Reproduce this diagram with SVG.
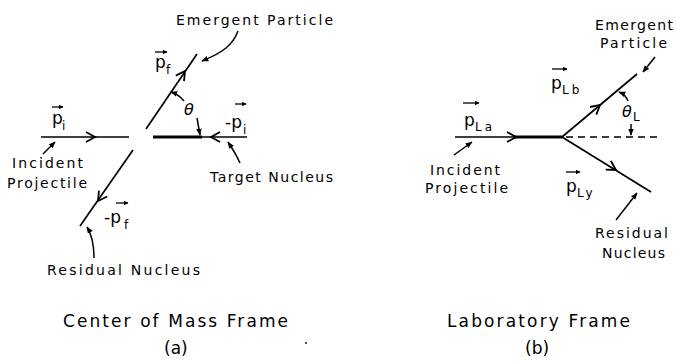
<svg xmlns="http://www.w3.org/2000/svg" width="676" height="364" viewBox="0 0 676 364">
<defs>
<marker id="tri" viewBox="0 0 10 10" refX="9" refY="5" markerWidth="7" markerHeight="7" markerUnits="userSpaceOnUse" orient="auto"><path d="M0,1 L10,5 L0,9 z" fill="#000"/></marker>
<marker id="vec" viewBox="0 0 10 10" refX="9" refY="5" markerWidth="5" markerHeight="5" markerUnits="userSpaceOnUse" orient="auto"><path d="M0,0 L10,5 L0,10 z" fill="#000"/></marker>
</defs>
<style>
.t{font-family:"DejaVu Sans","Liberation Sans",sans-serif;font-size:14px;fill:#000}
.h{font-family:"DejaVu Sans","Liberation Sans",sans-serif;font-size:17px;fill:#000}
.p{font-family:"DejaVu Sans","Liberation Sans",sans-serif;font-size:17px;fill:#000}
.s{font-family:"DejaVu Sans","Liberation Sans",sans-serif;font-size:12px;fill:#000}
.g{font-family:"DejaVu Sans","Liberation Sans",sans-serif;font-size:16px;font-style:italic;fill:#000}
.ln{fill:none;stroke:#000;stroke-width:1.7}
.ch{fill:none;stroke:#000;stroke-width:1.8;stroke-linejoin:miter}
.thk{fill:none;stroke:#000;stroke-width:3}
.ptr{fill:none;stroke:#000;stroke-width:1.5;marker-end:url(#tri)}
.v{fill:none;stroke:#000;stroke-width:1.3;marker-end:url(#vec)}
.dash{fill:none;stroke:#000;stroke-width:1.7;stroke-dasharray:7 5}
</style>
<g id="connectors">
<!-- (a) center of mass -->
<path class="ln" d="M41,137 L129,137"/>
<path class="ch" d="M86,132 L95,137 L86,142"/>
<path class="ln" d="M153,137 L247,137"/>
<path class="thk" d="M153,137 L202,137"/>
<path class="ch" d="M220,132 L211,137 L220,142"/>
<path class="ln" d="M146,129 L197,54"/>
<path class="ch" d="M184,81.2 L185,71 L175.8,75.6"/>
<path class="ln" d="M133,150 L80,226"/>
<path class="ch" d="M107.2,196.5 L98,201 L99,190.7"/>
<path class="ptr" d="M184,101 C180,96 177,94 171,92"/>
<path class="ptr" d="M197,118 L200,135"/>
<!-- (b) laboratory -->
<path class="ln" d="M455,137 L562,137"/>
<path class="thk" d="M514,137 L562,137"/>
<path class="ch" d="M507,132 L516,137 L507,142"/>
<path class="ln" d="M562,137 L637,74"/>
<path class="ch" d="M596.3,114.6 L600,105 L589.9,107"/>
<path class="ln" d="M562,137 L651,192"/>
<path class="ch" d="M605.7,169.6 L616,170 L610.9,161"/>
<path class="dash" d="M566,137 L658,137"/>
<path class="ptr" d="M628,101 C626,96 624,94 619,92"/>
<path class="ptr" d="M631,124 L631,135"/>
</g>
<g id="emergent-a">
<text class="t" x="176" y="25" textLength="157" lengthAdjust="spacing">Emergent Particle</text>
<path class="ptr" d="M238,31 C233,45 222,53 202,61"/>
</g>
<g id="incident-a">
<text class="t" x="12" y="168" textLength="71" lengthAdjust="spacing">Incident</text>
<text class="t" x="7" y="188" textLength="80" lengthAdjust="spacing">Projectile</text>
<path class="ptr" d="M43,154 L55,142"/>
</g>
<g id="target-a">
<text class="t" x="210" y="182" textLength="123" lengthAdjust="spacing">Target Nucleus</text>
<path class="ptr" d="M240,163 C236,154 232,148 228,142"/>
</g>
<g id="residual-a">
<text class="t" x="47" y="275" textLength="153" lengthAdjust="spacing">Residual Nucleus</text>
<path class="ptr" d="M94,258 C94,245 92,235 87,227"/>
</g>
<g id="labels-a">
<path class="v" d="M52,107 L63,107"/>
<text class="p" x="52" y="124">p</text><text class="s" x="62" y="130">i</text>
<path class="v" d="M155,52 L167,52"/>
<text class="p" x="155" y="68">p</text><text class="s" x="166" y="74">f</text>
<path class="v" d="M235,104 L246,104"/>
<text class="p" x="225" y="128">-p</text><text class="s" x="243" y="134">i</text>
<path class="v" d="M116,203 L128,203"/>
<text class="p" x="104" y="223">-p</text><text class="s" x="124" y="229">f</text>
<text class="g" x="184" y="115">θ</text>
</g>
<g id="title-a">
<text class="h" x="63" y="327" textLength="225" lengthAdjust="spacing">Center of Mass Frame</text>
<text class="h" x="164" y="354" font-size="18">(a)</text>
<circle cx="306" cy="343" r="0.9" fill="#000"/>
</g>
<g id="emergent-b">
<text class="t" x="595" y="30" textLength="78" lengthAdjust="spacing">Emergent</text>
<text class="t" x="600" y="48" textLength="67" lengthAdjust="spacing">Particle</text>
<path class="ptr" d="M655,57 L643,72"/>
</g>
<g id="incident-b">
<text class="t" x="430" y="175" textLength="70" lengthAdjust="spacing">Incident</text>
<text class="t" x="425" y="193" textLength="83" lengthAdjust="spacing">Projectile</text>
<path class="ptr" d="M454,155 L472,142"/>
</g>
<g id="residual-b">
<text class="t" x="595" y="238" textLength="73" lengthAdjust="spacing">Residual</text>
<text class="t" x="602" y="258" textLength="63" lengthAdjust="spacing">Nucleus</text>
<path class="ptr" d="M616,220 L637,193"/>
</g>
<g id="labels-b">
<path class="v" d="M463,103 L479,103"/>
<text class="p" x="464" y="126">p</text><text class="s" x="475" y="131" font-size="13" letter-spacing="3">La</text>
<path class="v" d="M552,69 L567,69"/>
<text class="p" x="551" y="89">p</text><text class="s" x="562" y="94" font-size="13" letter-spacing="3">Lb</text>
<path class="v" d="M566,172 L580,172"/>
<text class="p" x="566" y="192">p</text><text class="s" x="577" y="197" font-size="13" letter-spacing="3">Ly</text>
<text class="g" x="622" y="117">θ</text><text class="s" x="633" y="121">L</text>
</g>
<g id="title-b">
<text class="h" x="447" y="327" textLength="183" lengthAdjust="spacing">Laboratory Frame</text>
<text class="h" x="525" y="354" font-size="18">(b)</text>
</g>
</svg>
